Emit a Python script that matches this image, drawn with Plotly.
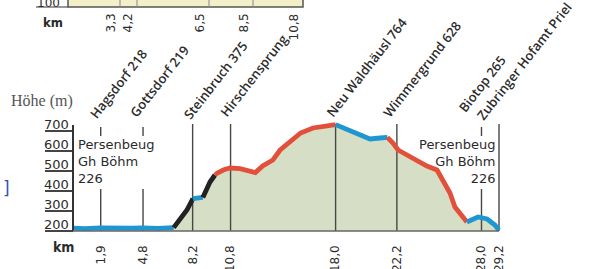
import plotly.graph_objects as go

# ---------------- data ----------------
station_names = ["Hagsdorf 218", "Gottsdorf 219", "Steinbruch 375", "Hirschensprung",
                 "Neu Waldhäusl 764", "Wimmergrund 628", "Biotop 265", "Zubringer Hofamt Priel"]
station_km = [1.9, 4.8, 8.2, 10.8, 18.0, 22.2, 28.0, 29.2]
km_tick_text = ["1,9", "4,8", "8,2", "10,8", "18,0", "22,2", "28,0", "29,2"]

elev_ticks = [200, 300, 400, 500, 600, 700]

profile_km = [0.0, 0.8, 1.9, 3.0, 4.0, 4.8, 5.8, 6.9, 7.33, 7.81, 8.22, 8.5, 8.9, 9.05, 9.39,
              9.73, 9.9, 10.3, 10.76, 11.45, 12.13, 12.5, 13.0, 13.7, 14.2, 14.9, 15.6, 16.45,
              17.2, 18.0, 18.78, 19.67, 20.36, 21.04, 21.55, 21.93, 22.28, 23.1, 24.26, 24.95,
              25.36, 25.84, 26.18, 26.66, 27.0, 27.35, 27.76, 28.38, 28.92, 29.13, 29.2]
profile_m = [214, 212, 216, 213, 214, 216, 213, 217, 255, 305, 362, 365, 368, 395, 445,
             480, 490, 505, 515, 512, 500, 492, 525, 555, 605, 650, 690, 715,
             722, 732, 710, 680, 660, 665, 668, 640, 605, 570, 525, 505,
             455, 390, 320, 270, 245, 255, 270, 260, 230, 210, 205]

# surface type segments (start km, end km, colour key)
segment_start = [0.0, 6.9, 8.22, 8.9, 9.73, 18.0, 21.55, 27.0]
segment_end = [6.9, 8.22, 8.9, 9.73, 18.0, 21.55, 27.0, 29.2]
segment_kind = ["asphalt", "trail", "asphalt", "trail", "gravel", "asphalt", "gravel", "asphalt"]

start_label = ["Persenbeug", "Gh Böhm", "226"]

# remnant of the profile above (cropped at the top of the image)
upper_km_text = ["3,3", "4,2", "6,5", "8,5", "10,8"]

# ---------------- geometry helpers (layout only) ----------------
W, H = 601, 269
PLOT_BOTTOM_PX = 236
X0_PX = 73
PX_PER_KM = (499 - 73) / 29.2


def km_px(px):
    return (px - X0_PX) / PX_PER_KM


def m_px(py):
    return 200 + (231 - py) * 5


def py_paper(py):
    return 1 - py / PLOT_BOTTOM_PX


def px_paper(px):
    return px / W


colors = {"asphalt": "#1d96d1", "gravel": "#e2503b", "trail": "#222222"}
FILL = "#d6dfc5"
TXT = "#2b2b2b"

fig = go.Figure()

# area fill
fig.add_trace(go.Scatter(
    x=[profile_km[0]] + profile_km + [profile_km[-1]],
    y=[200] + profile_m + [200],
    fill="toself", fillcolor=FILL, mode="lines", line=dict(width=0),
    hoverinfo="skip", showlegend=False))

# station vertical lines (broken where the start/finish text sits)
gap_stations = {0, 1, 6}
vx, vy = [], []
for i, k in enumerate(station_km):
    if i in gap_stations:
        vx += [k, k, None, k, k, None]
        vy += [m_px(127), m_px(136), None, m_px(189), 200, None]
    else:
        vx += [k, k, None]
        vy += [m_px(124), 200, None]
fig.add_trace(go.Scatter(x=vx, y=vy, mode="lines", line=dict(color="#474747", width=1.4),
                         hoverinfo="skip", showlegend=False))

# coloured profile line by segment
for s, e, kind in zip(segment_start, segment_end, segment_kind):
    xs = [k for k in profile_km if s - 1e-9 <= k <= e + 1e-9]
    ys = [profile_m[profile_km.index(k)] for k in xs]
    fig.add_trace(go.Scatter(x=xs, y=ys, mode="lines",
                             line=dict(color=colors[kind], width=4.8),
                             hoverinfo="skip", showlegend=False))

shapes = []
# y axis line
shapes.append(dict(type="line", xref="x", yref="y", x0=0, x1=0, y0=200, y1=m_px(125),
                   line=dict(color="#333", width=2)))
# x axis line
shapes.append(dict(type="line", xref="x", yref="y", x0=0, x1=station_km[-1], y0=200, y1=200,
                   line=dict(color="#666", width=1.3)))

# top remnant box
shapes.append(dict(type="rect", xref="paper", yref="paper",
                   x0=px_paper(68), x1=px_paper(303), y0=py_paper(7), y1=py_paper(-4),
                   fillcolor="#f3efc9", line=dict(color="#555", width=1.5)))
for px in [120, 137, 209, 253]:
    shapes.append(dict(type="line", xref="paper", yref="paper",
                       x0=px_paper(px), x1=px_paper(px), y0=py_paper(7), y1=py_paper(-2),
                       line=dict(color="#888", width=1)))
shapes.append(dict(type="line", xref="paper", yref="paper",
                   x0=px_paper(36), x1=px_paper(68), y0=py_paper(7), y1=py_paper(7),
                   line=dict(color="#555", width=1.2)))

annotations = []
# station labels (rotated)
label_dx = [-8, -10, -6, -7, -6, -11, -20, -19]
label_py = [122, 120, 122, 120, 120, 120, 116, 123]
for name, k, dx, py in zip(station_names, station_km, label_dx, label_py):
    annotations.append(dict(x=k, y=m_px(py + 3), xref="x", yref="y", text=name,
                            showarrow=False, textangle=-52, xanchor="left", yanchor="bottom",
                            xshift=dx - 10,
                            font=dict(family="Open Sans", size=13, color=TXT, weight=600)))

# elevation tick labels
for v in elev_ticks:
    annotations.append(dict(x=0, y=v, xref="x", yref="y", text=str(v), showarrow=False,
                            xanchor="right", yanchor="bottom", xshift=-2, yshift=-3,
                            font=dict(family="DejaVu Sans", size=13, color=TXT)))

annotations.append(dict(x=px_paper(42), y=py_paper(101), xref="paper", yref="paper",
                        text="Höhe (m)", showarrow=False, xanchor="center", yanchor="middle",
                        font=dict(family="Liberation Serif", size=16, color="#555")))

start_text = "<br>".join(start_label)
annotations.append(dict(x=km_px(76), y=m_px(135), xref="x", yref="y", text=start_text,
                        showarrow=False, xanchor="left", yanchor="top", align="left",
                        font=dict(family="DejaVu Sans", size=13, color=TXT)))
annotations.append(dict(x=km_px(497), y=m_px(135), xref="x", yref="y", text=start_text,
                        showarrow=False, xanchor="right", yanchor="top", align="right",
                        font=dict(family="DejaVu Sans", size=13, color=TXT)))

annotations.append(dict(x=px_paper(64), y=py_paper(247), xref="paper", yref="paper",
                        text="<b>km</b>", showarrow=False, xanchor="center", yanchor="middle",
                        font=dict(family="DejaVu Sans Condensed", size=14, color=TXT)))

# top remnant labels
annotations.append(dict(x=px_paper(53), y=py_paper(23), xref="paper", yref="paper",
                        text="<b>km</b>", showarrow=False, xanchor="center", yanchor="middle",
                        font=dict(family="DejaVu Sans Condensed", size=13, color=TXT)))
annotations.append(dict(x=px_paper(62), y=py_paper(3), xref="paper", yref="paper",
                        text="100", showarrow=False, xanchor="right", yanchor="middle",
                        font=dict(family="DejaVu Sans", size=12, color=TXT)))
for t, px in zip(upper_km_text, [120, 137, 209, 253, 303]):
    annotations.append(dict(x=px_paper(px), y=py_paper(12), xref="paper", yref="paper",
                            text=t, showarrow=False, textangle=-90,
                            xanchor="right", yanchor="top",
                            font=dict(family="DejaVu Sans", size=12, color=TXT)))

annotations.append(dict(x=px_paper(6), y=py_paper(188), xref="paper", yref="paper",
                        text="]", showarrow=False, xanchor="center", yanchor="middle",
                        font=dict(family="DejaVu Sans", size=17, color="#2f4fc0")))

fig.update_layout(
    width=W, height=H,
    margin=dict(l=0, r=0, t=0, b=H - PLOT_BOTTOM_PX, pad=0, autoexpand=False),
    paper_bgcolor="white", plot_bgcolor="white",
    showlegend=False,
    xaxis=dict(range=[km_px(0), km_px(W)], showgrid=False, zeroline=False, showline=False,
               automargin=False,
               tickvals=station_km, ticktext=km_tick_text, tickangle=-90, ticks="",
               ticklabelstandoff=6,
               tickfont=dict(family="DejaVu Sans", size=12, color=TXT)),
    yaxis=dict(range=[m_px(PLOT_BOTTOM_PX), m_px(0)], showgrid=False, zeroline=False,
               automargin=False,
               showline=False, anchor="free", position=px_paper(X0_PX),
               tickvals=elev_ticks, showticklabels=False, ticks="outside", ticklen=28,
               tickwidth=1.5, tickcolor="#444"),
    shapes=shapes, annotations=annotations,
)

fig.write_html("out.html", config={"displayModeBar": False},
               post_script="document.body.style.margin='0px';document.body.style.padding='0px';")
